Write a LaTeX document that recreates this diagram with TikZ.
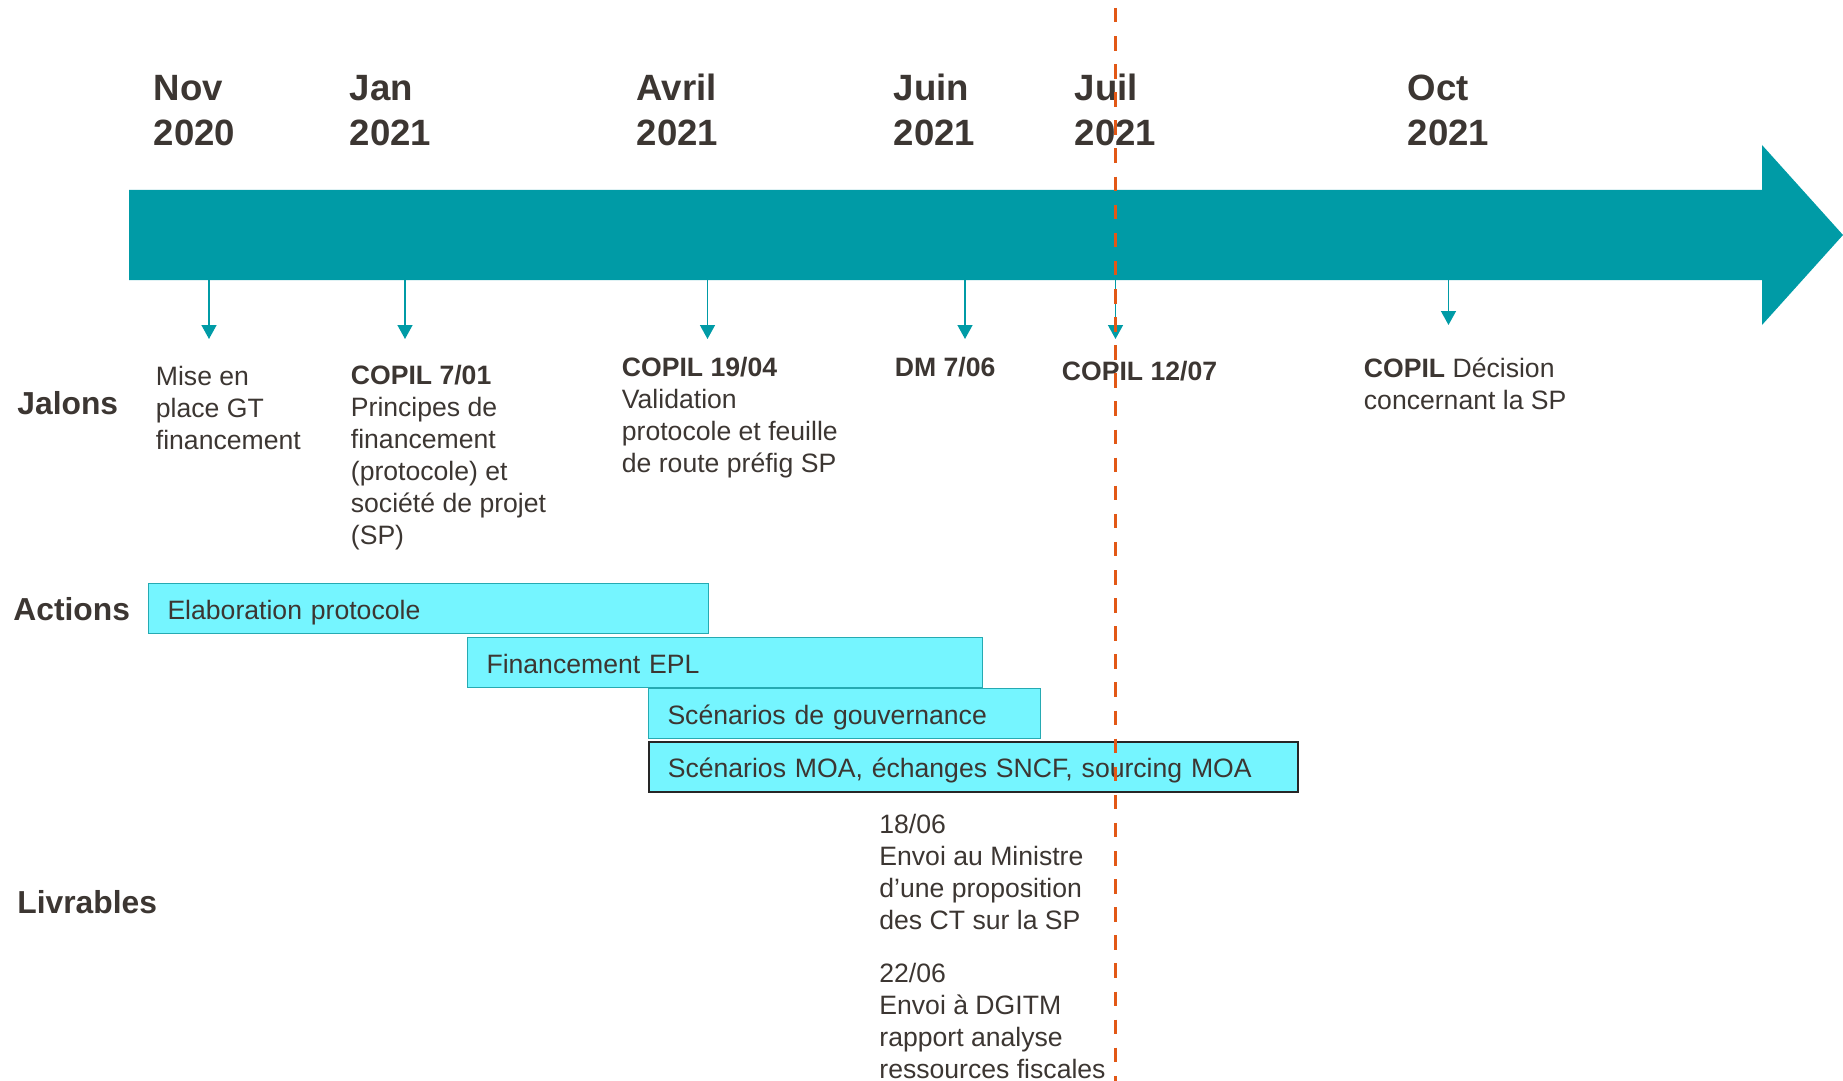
\documentclass[tikz,border=0pt]{standalone}
\usepackage{fontspec}
\setmainfont{Liberation Sans}
\usetikzlibrary{arrows.meta}
\definecolor{tl}{RGB}{0,155,166}
\definecolor{txtc}{RGB}{60,54,50}
\definecolor{boxfill}{RGB}{117,245,255}
\definecolor{boxline}{RGB}{38,170,178}
\definecolor{org}{RGB}{226,88,22}
\newcommand\lns[1]{\begin{tabular}[t]{@{}l@{}}#1\end{tabular}}
\begin{document}
\begin{tikzpicture}[x=0.5pt,y=-0.5pt,
  body/.style={font=\fontsize{13.3}{16}\selectfont, text=txtc, inner sep=0pt, anchor=base west},
  month/.style={font=\fontsize{18.3}{22.5}\selectfont\bfseries, text=txtc, inner sep=0pt, anchor=base west},
  rowlabel/.style={font=\fontsize{15.9}{19}\selectfont\bfseries, text=txtc, inner sep=0pt, anchor=base west},
  tick/.style={draw=tl, line width=0.75pt, -{Triangle[length=7pt,width=7.5pt]}},
  actbox/.style={rectangle, anchor=north west, fill=boxfill, draw=boxline, line width=0.5pt,
    minimum height=25pt, inner xsep=9.5pt, inner ysep=0pt, text height=12.5pt, text depth=1.5pt,
    align=left, font=\fontsize{13.3}{16}\selectfont, text=txtc},
  nowline/.style={draw=org, line width=1.8pt, dash pattern=on 7.25pt off 6.8pt}
]
\useasboundingbox (0,0) rectangle (1843,1081);

% timeline arrow
\fill[tl] (129,190) -- (1762,190) -- (1762,145) -- (1843,235) -- (1762,325) -- (1762,280) -- (129,280) -- cycle;

% months
\node[month] (m1) at (153.5,101) {\lns{Nov\\2020}};
\node[month] (m2) at (349.5,101) {\lns{Jan\\2021}};
\node[month] (m3) at (636.5,101) {\lns{Avril\\2021}};
\node[month] (m4) at (893.5,101) {\lns{Juin\\2021}};
\node[month] (m5) at (1074.5,101) {\lns{Juil\\2021}};
\node[month] (m6) at (1407.5,101) {\lns{Oct\\2021}};

% ticks
\coordinate (s1) at (209,280);   \coordinate (e1) at (209,339);
\coordinate (s2) at (405,280);   \coordinate (e2) at (405,339);
\coordinate (s3) at (707.5,280); \coordinate (e3) at (707.5,339);
\coordinate (s4) at (965,280);   \coordinate (e4) at (965,339);
\coordinate (s5) at (1115.5,280);\coordinate (e5) at (1115.5,339);
\coordinate (s6) at (1448.5,280);\coordinate (e6) at (1448.5,325);
\draw[tick] (s1) -- (e1);
\draw[tick] (s2) -- (e2);
\draw[tick] (s3) -- (e3);
\draw[tick] (s4) -- (e4);
\draw[tick] (s5) -- (e5);
\draw[tick] (s6) -- (e6);

% row labels
\node[rowlabel] (jalons) at (17,414) {Jalons};
\node[rowlabel] (actions) at (13,620) {Actions};
\node[rowlabel] (livrables) at (17,913) {Livrables};

% jalons
\node[body] (j1) at (155.5,385) {\lns{Mise en\\place GT\\financement}};
\node[body] (j2) at (350.5,384) {\lns{\textbf{COPIL 7/01}\\Principes de\\financement\\(protocole) et\\société de projet\\(SP)}};
\node[body] (j3) at (621.5,376) {\lns{\textbf{COPIL 19/04}\\Validation\\protocole et feuille\\de route préfig SP}};
\node[body] (j4) at (894.5,376) {\textbf{DM 7/06}};
\node[body] (j5) at (1061.5,380) {\textbf{COPIL 12/07}};
\node[body] (j6) at (1363.5,377) {\lns{\textbf{COPIL} Décision\\concernant la SP}};

% actions
\node[actbox, text width=261pt] (a1) at (148,583) {Elaboration protocole};
\node[actbox, text width=238.5pt] (a2) at (467,637) {Financement EPL};
\node[actbox, text width=177pt] (a3) at (648,688) {Scénarios de gouvernance};
\node[actbox, text width=305.5pt, draw=black!85, line width=0.8pt] (a4) at (648,741) {Scénarios MOA, échanges SNCF, sourcing MOA};

% livrables
\node[body] (l1) at (879,833) {\lns{18/06\\Envoi au Ministre\\d’une proposition\\des CT sur la SP}};
\node[body] (l2) at (879,982) {\lns{22/06\\Envoi à DGITM\\rapport analyse\\ressources fiscales}};

% current date line
\coordinate (dtop) at (1115.5,8);
\coordinate (dbot) at (1115.5,1081);
\draw[nowline] (dtop) -- (dbot);
\end{tikzpicture}
\end{document}
